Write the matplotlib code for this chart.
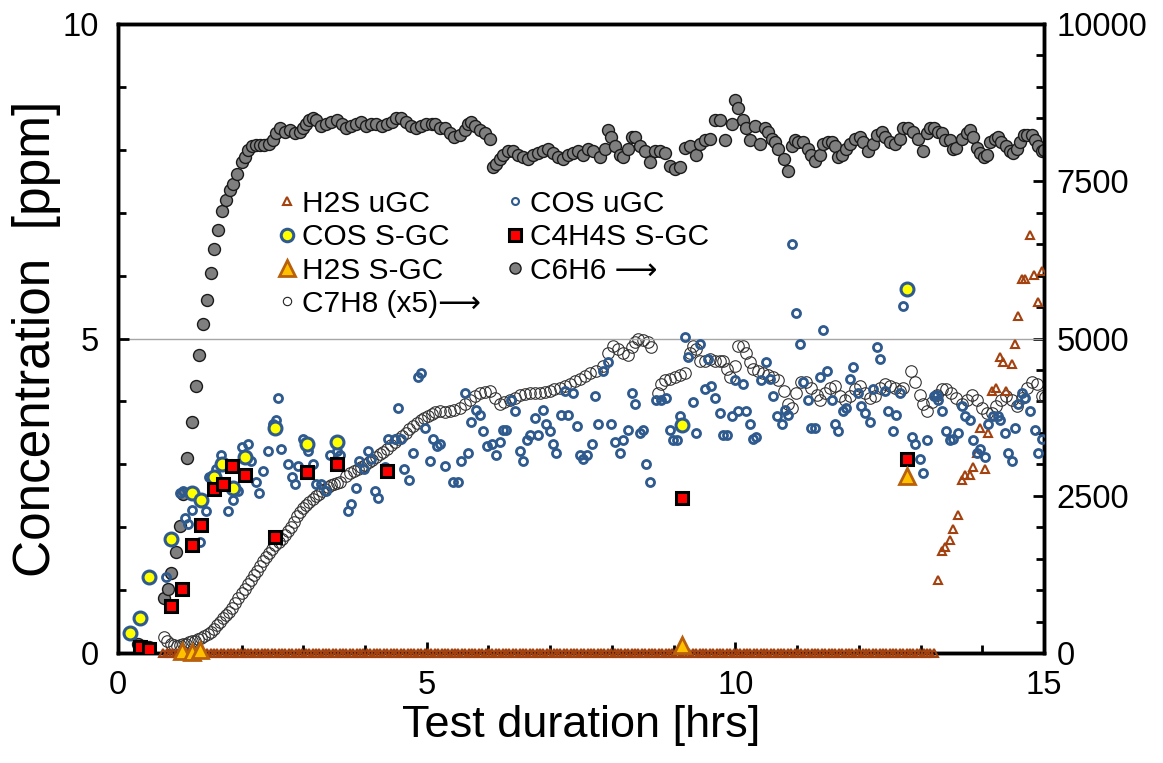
import numpy as np
import matplotlib
matplotlib.use("Agg")
import matplotlib.pyplot as plt
from matplotlib.ticker import MultipleLocator
from matplotlib.lines import Line2D

plt.rcParams['font.family'] = ['Liberation Sans', 'DejaVu Sans']

# ---------------- data ----------------
# C6H6 (right axis)
c6h6_t = [0.32, 0.40, 0.50, 0.74, 0.81, 0.86, 0.94, 1.00, 1.06, 1.12, 1.19, 1.26, 1.31, 1.37, 1.44, 1.50,
          1.56, 1.62, 1.69, 1.75, 1.81, 1.87, 1.93, 2.00, 2.05, 2.10, 2.17, 2.24, 2.30, 2.37, 2.44, 2.51,
          2.56, 2.62, 2.70, 2.78, 2.86, 2.94, 3.00, 3.05, 3.10, 3.16, 3.21, 3.29, 3.37, 3.45, 3.54, 3.62,
          3.70, 3.78, 3.86, 3.94, 4.02, 4.10, 4.18, 4.27, 4.35, 4.43, 4.51, 4.59, 4.67, 4.75, 4.83, 4.91,
          4.99, 5.08, 5.13, 5.21, 5.29, 5.37, 5.45, 5.54, 5.62, 5.67, 5.72, 5.78, 5.86, 5.94, 6.02,
          6.08, 6.13, 6.18, 6.24, 6.32, 6.40, 6.48, 6.56, 6.64, 6.72, 6.80, 6.89, 6.97, 7.05, 7.13, 7.21,
          7.29, 7.37, 7.45, 7.53, 7.61, 7.70, 7.80, 7.89, 7.94, 7.99, 8.05, 8.13, 8.18, 8.26, 8.32, 8.37,
          8.45, 8.53, 8.61, 8.70, 8.78, 8.86, 8.94, 9.02, 9.10, 9.18, 9.26, 9.37, 9.42, 9.51, 9.59, 9.67,
          9.75, 9.83, 9.94, 9.99, 10.05, 10.13, 10.18, 10.24, 10.32, 10.40, 10.48, 10.53, 10.59, 10.64,
          10.69, 10.78, 10.86, 10.91, 10.96, 11.02, 11.10, 11.18, 11.23, 11.29, 11.37, 11.42, 11.50, 11.56,
          11.61, 11.67, 11.72, 11.80, 11.86, 11.94, 12.02, 12.07, 12.15, 12.23, 12.29, 12.37, 12.42, 12.50,
          12.59, 12.67, 12.72, 12.80, 12.88, 12.96, 13.04, 13.10, 13.15, 13.21, 13.29, 13.34, 13.40, 13.48,
          13.53, 13.58, 13.67, 13.75, 13.80, 13.85, 13.91, 13.96, 14.02, 14.07, 14.12, 14.21, 14.26, 14.31,
          14.39, 14.45, 14.50, 14.56, 14.61, 14.67, 14.72, 14.80, 14.85, 14.91, 14.96, 15.00]
c6h6_v = [145, 115, 90, 870, 1020, 1270, 1600, 2020, 2530, 3100, 3670, 4240, 4730, 5230, 5620, 6040,
          6420, 6720, 7030, 7210, 7360, 7460, 7610, 7800, 7890, 7990, 8060, 8070, 8070, 8070, 8100, 8160,
          8270, 8350, 8290, 8310, 8270, 8290, 8350, 8410, 8470, 8500, 8470, 8380, 8410, 8440, 8470, 8410,
          8350, 8380, 8410, 8440, 8380, 8410, 8410, 8380, 8410, 8440, 8500, 8500, 8440, 8380, 8350, 8380,
          8410, 8410, 8410, 8350, 8350, 8270, 8210, 8240, 8320, 8410, 8440, 8380, 8320, 8270, 8180,
          7720, 7770, 7860, 7920, 7980, 7980, 7920, 7890, 7860, 7920, 7950, 7980, 8010, 7950, 7890, 7860,
          7920, 7950, 7980, 7920, 8010, 7980, 7890, 8010, 8320, 8210, 8060, 7920, 7890, 8010, 8210, 8210,
          8060, 7980, 7800, 7980, 7980, 7950, 7750, 7690, 7720, 8030, 8060, 7920, 8090, 8150, 8180, 8470,
          8470, 8150, 8410, 8790, 8670, 8470, 8350, 8150, 8380, 8090, 8350, 8290, 8180, 8120,
          8010, 7860, 7660, 8060, 8150, 8120, 8120, 8010, 7920, 7830, 7920, 8090, 8120, 8120,
          8060, 7890, 7920, 8010, 8090, 8180, 8210, 8120, 7980, 8090, 8240, 8290, 8210, 8120,
          8090, 8180, 8350, 8350, 8290, 8180, 7980, 8270, 8350, 8350, 8290, 8270, 8150, 8150,
          8010, 8030, 8180, 8270, 8320, 8210, 8030, 7950, 7890, 7920, 8120, 8180, 8210, 8120,
          8060, 7980, 7950, 8010, 8120, 8240, 8240, 8240, 8150, 8060, 7980, 7990]

# C7H8 x5 (right axis)
c7h8_t = [0.75, 0.80, 0.85, 0.90, 0.95, 1.00, 1.05, 1.10, 1.15, 1.20, 1.25, 1.30, 1.35, 1.40, 1.45, 1.50,
          1.55, 1.60, 1.65, 1.70, 1.75, 1.80, 1.85, 1.90, 1.95, 2.00, 2.05, 2.10, 2.15, 2.20, 2.25, 2.30,
          2.35, 2.40, 2.45, 2.50, 2.55, 2.60, 2.65, 2.70, 2.75, 2.80, 2.85, 2.90, 2.95, 3.00, 3.05, 3.10,
          3.15, 3.20, 3.25, 3.30, 3.35, 3.40, 3.45, 3.50, 3.55, 3.60, 3.70, 3.76, 3.82, 3.88, 3.94, 4.00,
          4.06, 4.12, 4.18, 4.24, 4.30, 4.36, 4.42, 4.48, 4.54, 4.60, 4.66, 4.72, 4.78, 4.84, 4.90, 4.96,
          5.02, 5.08, 5.14, 5.21, 5.29, 5.37, 5.45, 5.54, 5.62, 5.70, 5.78, 5.86, 5.94, 6.02, 6.10, 6.18,
          6.26, 6.35, 6.43, 6.51, 6.59, 6.67, 6.75, 6.83, 6.91, 6.99, 7.07, 7.16, 7.24, 7.32, 7.40, 7.48,
          7.56, 7.64, 7.75, 7.86, 7.94, 8.02, 8.10, 8.18, 8.26, 8.32, 8.37, 8.43, 8.51, 8.59, 8.64, 8.75,
          8.80, 8.86, 8.94, 9.02, 9.10, 9.18, 9.26, 9.32, 9.37, 9.42, 9.51, 9.59, 9.67, 9.75, 9.80, 9.86,
          9.91, 9.99, 10.05, 10.13, 10.18, 10.24, 10.29, 10.37, 10.45, 10.53, 10.61, 10.69, 10.78, 10.86,
          10.91, 10.99, 11.07, 11.15, 11.23, 11.32, 11.37, 11.45, 11.53, 11.61, 11.69, 11.77, 11.86, 11.94,
          12.02, 12.10, 12.18, 12.26, 12.34, 12.42, 12.50, 12.59, 12.67, 12.72, 12.85, 12.91, 12.99, 13.04,
          13.10, 13.18, 13.26, 13.34, 13.42, 13.50, 13.58, 13.67, 13.75, 13.83, 13.91, 13.99, 14.07, 14.15,
          14.23, 14.31, 14.39, 14.48, 14.56, 14.64, 14.72, 14.80, 14.88, 14.96, 15.02]
c7h8_v = [260, 190, 150, 125, 115, 120, 135, 150, 170, 185, 195, 215, 245, 275, 300, 335,
          385, 440, 490, 550, 600, 655, 720, 800, 870, 950, 1020, 1090, 1160, 1240, 1310, 1390,
          1460, 1530, 1590, 1650, 1720, 1770, 1820, 1880, 1940, 2010, 2090, 2170, 2240, 2300, 2350, 2400,
          2450, 2490, 2530, 2570, 2600, 2640, 2670, 2690, 2710, 2720, 2820, 2860, 2900, 2930, 2960, 2990,
          3030, 3070, 3110, 3160, 3200, 3250, 3300, 3350, 3400, 3450, 3500, 3560, 3610, 3660, 3700, 3740,
          3770, 3800, 3830, 3840, 3830, 3840, 3860, 3900, 3960, 4020, 4080, 4130, 4150, 4160, 4050, 3960,
          3990, 4020, 4060, 4100, 4120, 4130, 4130, 4130, 4150, 4160, 4190, 4220, 4250, 4280, 4320, 4360,
          4400, 4450, 4480, 4570, 4770, 4880, 4830, 4770, 4740, 4860, 4940, 5000, 4970, 4940, 4860, 4130,
          4280, 4340, 4360, 4390, 4420, 4450, 4770, 4880, 4830, 4650, 4650, 4680, 4650, 4650, 4650, 4510,
          4390, 4570, 4880, 4880, 4770, 4620, 4510, 4480, 4450, 4420, 4390, 4340, 4160, 3960,
          3900, 4130, 4310, 4310, 4220, 4100, 4020, 4130, 4220, 4250, 4080, 4020, 4080, 4190,
          4250, 4130, 4050, 4080, 4220, 4280, 4250, 4220, 4160, 4220, 4480, 4310, 4100, 3960,
          3840, 3990, 4100, 4190, 4190, 4130, 4050, 3960, 4020, 4100, 4020, 3900, 3820, 3820,
          3930, 4020, 4080, 4020, 3930, 4050, 4220, 4310, 4280, 4080, 4070]

# COS uGC (left axis, ppm)
cos_ugc_t = [0.33, 0.42, 0.50, 0.78, 1.00, 1.05, 1.08, 1.13, 1.19, 1.32, 1.43, 1.48, 1.54, 1.59, 1.67, 1.78,
             1.86, 1.94, 2.00, 2.10, 2.16, 2.24, 2.29, 2.35, 2.43, 2.51, 2.56, 2.59, 2.64, 2.75, 2.81, 2.86,
             2.91, 2.99, 3.08, 3.16, 3.21, 3.29, 3.37, 3.43, 3.54, 3.59, 3.72, 3.78, 3.86, 3.91, 3.99, 4.05,
             4.10, 4.16, 4.21, 4.32, 4.37, 4.48, 4.54, 4.59, 4.64, 4.72, 4.78, 4.86, 4.91, 4.97, 5.05, 5.10,
             5.16, 5.21, 5.29, 5.43, 5.51, 5.56, 5.62, 5.67, 5.72, 5.80, 5.86, 5.91, 5.97, 6.05, 6.13, 6.18,
             6.24, 6.29, 6.37, 6.43, 6.51, 6.56, 6.62, 6.67, 6.75, 6.81, 6.89, 6.94, 6.99, 7.05, 7.10, 7.18,
             7.24, 7.29, 7.37, 7.43, 7.48, 7.53, 7.59, 7.67, 7.72, 7.78, 7.86, 7.94, 7.99, 8.05, 8.13, 8.18,
             8.26, 8.32, 8.37, 8.45, 8.51, 8.56, 8.61, 8.72, 8.80, 8.88, 8.94, 8.99, 9.05, 9.10, 9.18, 9.24,
             9.32, 9.37, 9.42, 9.51, 9.56, 9.61, 9.67, 9.75, 9.80, 9.86, 9.94, 9.99, 10.05, 10.13, 10.18, 10.24,
             10.29, 10.34, 10.42, 10.50, 10.56, 10.61, 10.67, 10.75, 10.80, 10.86, 10.92, 10.99, 11.05, 11.10,
             11.18, 11.23, 11.29, 11.37, 11.42, 11.48, 11.56, 11.61, 11.67, 11.75, 11.80, 11.86, 11.91, 11.99,
             12.04, 12.10, 12.18, 12.23, 12.29, 12.34, 12.42, 12.48, 12.55, 12.61, 12.67, 12.72, 12.86, 12.91,
             12.99, 13.04, 13.10, 13.21, 13.26, 13.29, 13.34, 13.42, 13.48, 13.53, 13.61, 13.67, 13.72, 13.80,
             13.85, 13.91, 13.96, 14.04, 14.10, 14.18, 14.26, 14.29, 14.37, 14.42, 14.48, 14.53, 14.58, 14.64,
             14.69, 14.77, 14.85, 14.91, 14.96]
cos_ugc_v = [0.05, 0.02, 0.00, 1.21, 2.54, 2.57, 2.14, 2.05, 2.28, 1.76, 2.25, 2.80, 2.75, 2.92, 3.15, 2.25,
             2.43, 2.57, 3.27, 3.32, 3.06, 2.72, 2.54, 2.89, 3.21, 3.64, 3.70, 4.05, 3.24, 3.01, 2.80, 2.69,
             2.98, 3.41, 3.21, 3.01, 2.69, 2.69, 2.57, 3.15, 3.21, 3.15, 2.25, 2.37, 2.63, 3.06, 2.92, 3.21,
             3.09, 2.57, 2.46, 2.95, 3.41, 3.41, 3.90, 3.41, 2.92, 2.75, 3.18, 4.39, 4.45, 3.58, 3.06, 3.41,
             3.29, 3.32, 2.98, 2.72, 2.72, 3.06, 4.13, 3.18, 3.67, 3.87, 3.79, 3.53, 3.29, 3.32, 3.15, 3.35,
             3.55, 3.55, 4.02, 3.84, 3.21, 3.06, 3.38, 3.47, 3.73, 3.47, 3.87, 3.64, 3.53, 3.32, 3.18, 3.79,
             4.16, 3.79, 4.13, 3.61, 3.15, 3.09, 3.15, 3.32, 4.08, 3.64, 4.48, 4.62, 3.64, 3.35, 3.18, 3.38,
             3.55, 4.13, 3.96, 3.50, 3.55, 3.01, 2.72, 4.02, 4.02, 4.05, 3.55, 3.38, 3.38, 3.76, 5.03, 4.71,
             3.99, 3.50, 4.91, 4.19, 4.68, 4.25, 4.05, 3.82, 3.47, 3.47, 3.76, 4.34, 3.84, 4.28, 3.84, 3.64,
             3.41, 3.44, 4.34, 4.62, 4.36, 4.08, 3.76, 3.64, 3.87, 3.79, 6.50, 5.40, 4.91, 4.31,
             4.02, 3.58, 3.58, 4.39, 5.14, 4.48, 4.02, 3.64, 3.53, 3.84, 3.90, 4.36, 4.54, 4.13,
             3.93, 3.82, 3.67, 4.19, 4.86, 4.68, 4.16, 3.84, 3.53, 3.79, 4.13, 5.52, 3.44, 3.32,
             3.09, 2.86, 3.38, 4.08, 4.10, 4.02, 3.84, 3.53, 3.38, 3.41, 3.50, 3.93, 3.76, 3.70,
             3.38, 3.18, 3.24, 3.12, 3.64, 3.76, 3.76, 3.70, 3.50, 3.18, 3.06, 3.58, 3.96, 4.13,
             4.05, 3.84, 3.55, 3.18, 3.41]

# H2S uGC (left axis): zero baseline until ~13.25 h, then measured values
h2s_ugc_zero_t = np.arange(0.73, 13.27, 0.055)
h2s_ugc_zero_v = np.zeros_like(h2s_ugc_zero_t)
h2s_ugc_t = [13.29, 13.34, 13.40, 13.47, 13.53, 13.60, 13.67, 13.72, 13.80, 13.85, 13.91, 13.96, 14.04,
             14.10, 14.15, 14.23, 14.29, 14.34, 14.39, 14.48, 14.53, 14.58, 14.64, 14.69, 14.77, 14.83,
             14.91, 14.96]
h2s_ugc_v = [1.16, 1.62, 1.68, 1.79, 1.97, 2.20, 2.75, 2.83, 2.83, 2.95, 3.18, 3.58, 2.92,
             3.50, 4.16, 4.22, 4.71, 4.62, 4.16, 4.60, 4.91, 5.35, 5.95, 5.95, 6.65, 6.01,
             5.58, 6.07]

# S-GC measurements (left axis)
cos_sgc_t = [0.20, 0.35, 0.50, 0.85, 1.19, 1.35, 1.55, 1.69, 1.86, 2.05, 2.54, 3.06, 3.55, 9.14, 12.78]
cos_sgc_v = [0.32, 0.56, 1.21, 1.81, 2.54, 2.43, 2.80, 3.01, 2.63, 3.12, 3.58, 3.32, 3.36, 3.62, 5.78]

c4h4s_sgc_t = [0.35, 0.50, 0.85, 1.04, 1.20, 1.35, 1.55, 1.70, 1.85, 2.05, 2.54, 3.06, 3.55, 4.35, 9.14, 12.78]
c4h4s_sgc_v = [0.09, 0.06, 0.75, 1.02, 1.71, 2.04, 2.60, 2.68, 2.98, 2.83, 1.85, 2.87, 3.01, 2.89, 2.46, 3.09]

h2s_sgc_t = [1.03, 1.19, 1.32, 9.14, 12.78]
h2s_sgc_v = [0.03, 0.02, 0.04, 0.12, 2.82]

labels = ["H2S uGC", "COS S-GC", "H2S S-GC", "C7H8 (x5)\u27f6",
          "COS uGC", "C4H4S S-GC", "C6H6 \u27f6"]

# ---------------- styling ----------------
BLUE = "#2E5A8E"
BROWN = "#A3410F"
ORANGE_FILL = "#FFC000"
ORANGE_EDGE = "#B8600B"
GRAY = "#7F7F7F"

fig = plt.figure(figsize=(11.63, 7.63), dpi=100)
ax = fig.add_axes([0.1015, 0.1442, 0.7962, 0.8243])
ax2 = ax.twinx()
ax.set_zorder(ax2.get_zorder() + 1)
ax.patch.set_visible(False)

# right-axis series
ax2.plot(c7h8_t, c7h8_v, ls="none", marker="o", ms=8.3, mfc="none", mec="#333333", mew=0.8)
ax2.plot(c6h6_t, c6h6_v, ls="none", marker="o", ms=8.6, mfc=GRAY, mec="#1a1a1a", mew=1.0)

# left-axis series
ax.plot(h2s_ugc_zero_t, h2s_ugc_zero_v, ls="none", marker="^", ms=5.5, mfc="none", mec=BROWN, mew=1.5,
        clip_on=False, zorder=3)
ax.plot(h2s_ugc_t, h2s_ugc_v, ls="none", marker="^", ms=5.5, mfc="none", mec=BROWN, mew=1.5, zorder=3)
ax.plot(cos_ugc_t, cos_ugc_v, ls="none", marker="o", ms=5.8, mfc="none", mec=BLUE, mew=2.0, zorder=3)
ax.plot(cos_sgc_t, cos_sgc_v, ls="none", marker="o", ms=9.3, mfc="#FFFF00", mec=BLUE, mew=2.2, zorder=4)
ax.plot(c4h4s_sgc_t, c4h4s_sgc_v, ls="none", marker="s", ms=9, mfc="#FF0000", mec="black", mew=2.2, zorder=5)
ax.plot(h2s_sgc_t, h2s_sgc_v, ls="none", marker="^", ms=11, mfc=ORANGE_FILL, mec=ORANGE_EDGE, mew=2.0,
        clip_on=False, zorder=5)

# axes
ax.set_xlim(0, 15)
ax.set_ylim(0, 10)
ax2.set_ylim(0, 10000)
ax.set_xticks([0, 5, 10, 15])
ax.set_yticks([0, 5, 10])
ax2.set_yticks([0, 2500, 5000, 7500, 10000])
ax.xaxis.set_minor_locator(MultipleLocator(1))
ax.yaxis.set_minor_locator(MultipleLocator(1))
ax2.yaxis.set_minor_locator(MultipleLocator(500))
ax.yaxis.grid(True, which="major", color="#A6A6A6", lw=1.0)
ax.set_axisbelow(True)

for a in (ax, ax2):
    for s in a.spines.values():
        s.set_linewidth(2.5)
        s.set_color("black")

ax.tick_params(axis="both", which="both", direction="in", width=2, top=False, right=False)
ax.tick_params(axis="both", which="major", length=8, labelsize=23.5)
ax.tick_params(axis="both", which="minor", length=6)
ax.tick_params(axis="y", which="major", pad=14)
ax.tick_params(axis="x", which="major", pad=12)
ax2.tick_params(axis="y", which="both", direction="in", width=2, labelsize=23.5, pad=9)
ax2.tick_params(axis="y", which="major", length=8)
ax2.tick_params(axis="y", which="minor", length=6)

ax.set_xlabel("Test duration [hrs]", fontsize=32.5, labelpad=3)
ax.set_ylabel("Concentration  [ppm]", fontsize=37, labelpad=1)

# legend
handles = [
    Line2D([], [], ls="none", marker="^", ms=5.5, mfc="none", mec=BROWN, mew=1.5),
    Line2D([], [], ls="none", marker="o", ms=9, mfc="#FFFF00", mec=BLUE, mew=2.2),
    Line2D([], [], ls="none", marker="^", ms=11, mfc=ORANGE_FILL, mec=ORANGE_EDGE, mew=2.0),
    Line2D([], [], ls="none", marker="o", ms=6, mfc="none", mec="#222222", mew=0.8),
    Line2D([], [], ls="none", marker="o", ms=5, mfc="none", mec=BLUE, mew=1.5),
    Line2D([], [], ls="none", marker="s", ms=9, mfc="#FF0000", mec="black", mew=2.2),
    Line2D([], [], ls="none", marker="o", ms=8, mfc=GRAY, mec="#1a1a1a", mew=1.0),
]
leg = ax.legend(handles, labels, ncol=2, loc="upper left", bbox_to_anchor=(0.1744, 0.7365),
                frameon=False, fontsize=21.5, handlelength=0.5, handletextpad=0.25,
                labelspacing=0.18, columnspacing=0.9, borderaxespad=0, borderpad=0)

fig.savefig("out.png", dpi=100)
